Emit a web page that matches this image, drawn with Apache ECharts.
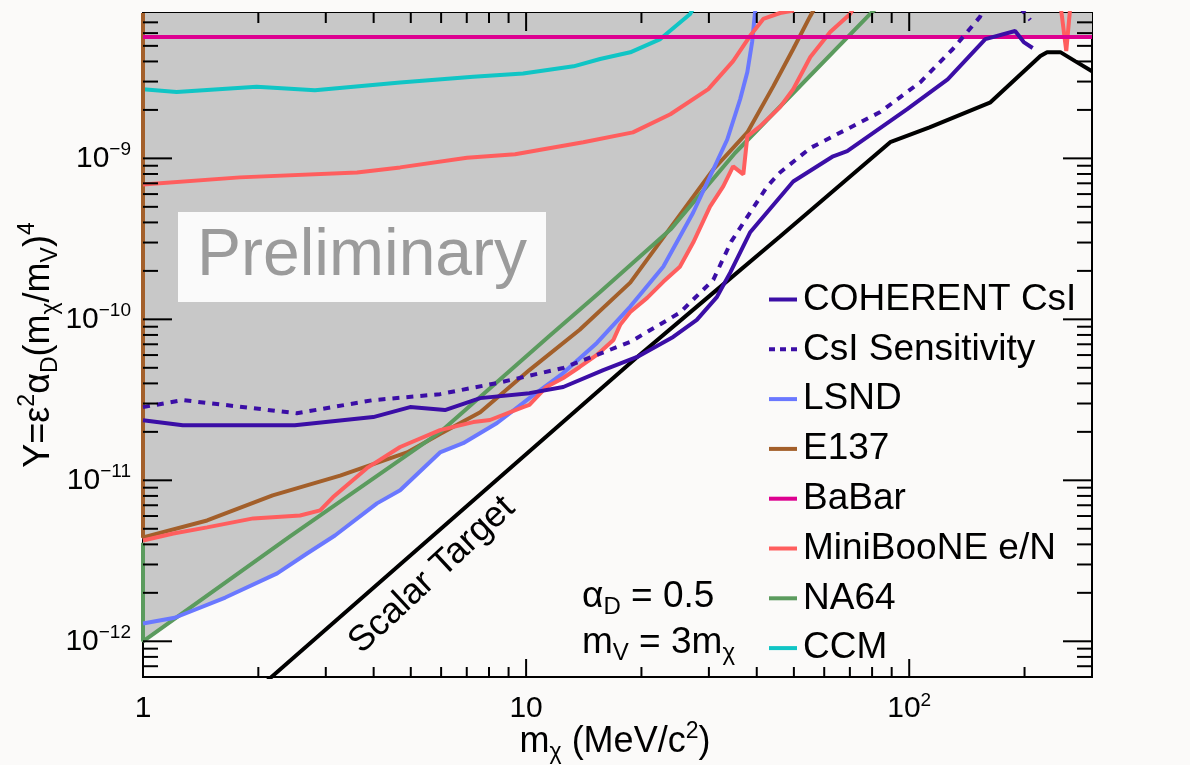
<!DOCTYPE html>
<html><head><meta charset="utf-8">
<script src="https://cdn.jsdelivr.net/npm/echarts@6/dist/echarts.min.js"></script>
<style>html,body{margin:0;padding:0;background:#fbfaf9;}#c{width:1190px;height:765px;}</style>
</head><body><div id="c"></div>
<script>
const FONT = "'Liberation Sans', Arial, Helvetica, sans-serif";
const X_MIN = 1, X_MAX = 300, Y_MIN = 6e-13, Y_MAX = 8e-9;

const xMajorTicks = [10, 100];
const xMinorTicks = [2, 3, 4, 5, 6, 7, 8, 9, 20, 30, 40, 50, 60, 70, 80, 90, 200];
const yMajorTicks = [1e-12, 1e-11, 1e-10, 1e-9];
const yMinorTicks = [7e-13, 8e-13, 9e-13,
  2e-12, 3e-12, 4e-12, 5e-12, 6e-12, 7e-12, 8e-12, 9e-12,
  2e-11, 3e-11, 4e-11, 5e-11, 6e-11, 7e-11, 8e-11, 9e-11,
  2e-10, 3e-10, 4e-10, 5e-10, 6e-10, 7e-10, 8e-10, 9e-10,
  2e-9, 3e-9, 4e-9, 5e-9, 6e-9, 7e-9];

const legendNames = ['COHERENT CsI', 'CsI Sensitivity', 'LSND', 'E137', 'BaBar', 'MiniBooNE e/N', 'NA64', 'CCM'];

const coherentCsI = [[1,2.36e-11],[1.27,2.20e-11],[2.49,2.20e-11],[3.99,2.47e-11],[4.98,2.85e-11],[6.14,2.73e-11],[7.59,3.24e-11],[10.2,3.48e-11],[12.5,3.80e-11],[15.9,4.84e-11],[19.5,5.84e-11],[24.2,7.78e-11],[27.9,9.93e-11],[31.5,1.38e-10],[34.1,1.95e-10],[38.4,3.46e-10],[49.8,7.19e-10],[63.3,1.03e-9],[68.9,1.11e-9],[98.8,2.02e-9],[126,3.10e-9],[158,5.51e-9],[189,6.18e-9],[199,5.28e-9],[210,4.85e-9]];
const csiSensitivity = [[1,2.85e-11],[1.27,3.15e-11],[2.52,2.61e-11],[3.99,3.15e-11],[5.96,3.43e-11],[8.40,4.02e-11],[12.5,4.99e-11],[18.7,7.24e-11],[25.2,1.10e-10],[30.8,1.76e-10],[34.3,3.04e-10],[42.6,6.70e-10],[46.0,8.17e-10],[55.2,1.16e-9],[84.0,1.94e-9],[107,2.98e-9],[130,4.78e-9],[153,7.57e-9],[157,8.6e-9]];
const csiSensitivityEnd = [[195,8.6e-9],[207,7.24e-9]];
const lsnd = [[1,1.29e-12],[1.21,1.40e-12],[1.64,1.87e-12],[2.24,2.64e-12],[2.68,3.51e-12],[3.17,4.54e-12],[4.08,7.19e-12],[4.69,8.67e-12],[5.96,1.49e-11],[6.85,1.70e-11],[8.40,2.27e-11],[10.2,3.24e-11],[12.5,4.64e-11],[15.3,7.14e-11],[18.7,1.20e-10],[22.8,2.12e-10],[27.3,4.61e-10],[30.8,8.53e-10],[33.5,1.31e-9],[36.2,2.33e-9],[37.8,3.44e-9],[38.9,5.28e-9],[39.6,8.13e-9],[39.8,9e-9]];
const e137 = [[1,8e-9],[1,4.42e-12],[1.47,5.63e-12],[2.18,8.07e-12],[3.27,1.07e-11],[4.89,1.49e-11],[5.96,1.94e-11],[7.59,2.65e-11],[10.2,4.84e-11],[13.8,8.61e-11],[18.7,1.69e-10],[23.3,3.46e-10],[30.8,8.53e-10],[37.8,1.45e-9],[44.2,2.81e-9],[49.8,4.78e-9],[55.2,7.67e-9],[57,8.8e-9]];
const babar = [[1,5.68e-9],[300,5.68e-9]];
const miniBooNELower = [[1,4.23e-12],[1.20,4.67e-12],[1.47,5.10e-12],[1.94,5.80e-12],[2.57,6.05e-12],[2.90,6.50e-12],[3.13,7.84e-12],[3.84,1.19e-11],[4.69,1.61e-11],[5.96,2.05e-11],[7.28,2.30e-11],[8.05,2.37e-11],[9.82,2.85e-11],[10.2,2.94e-11],[11.3,3.80e-11],[12.5,4.32e-11],[13.8,5.06e-11],[15.3,6.01e-11],[16.9,7.45e-11],[17.6,9.24e-11],[18.7,1.11e-10],[20.7,1.36e-10],[22.8,1.71e-10],[25.2,2.12e-10],[27.3,3.00e-10],[30.2,5.02e-10],[32.7,6.70e-10],[34.7,8.92e-10],[36.9,7.95e-10],[37.8,1.37e-9],[40.8,1.58e-9],[46.0,2.08e-9],[49.8,2.69e-9],[55.2,4.26e-9],[62.2,6.09e-9],[70.1,7.89e-9],[72,8.8e-9]];
const miniBooNEUpper = [[1,6.89e-10],[1.79,7.62e-10],[3.62,8.18e-10],[4.69,8.79e-10],[7.01,1.01e-9],[9.36,1.06e-9],[14.1,1.26e-9],[19.0,1.45e-9],[23.8,1.88e-9],[29.9,2.69e-9],[34.7,4.02e-9],[38.4,5.75e-9],[41.6,7.35e-9],[46,8.0e-9],[50,8.3e-9]];
const miniBooNESpike = [[249,8.5e-9],[257,4.64e-9],[263,8.5e-9]];
const na64 = [[1,4.1e-12],[1,1.0e-12],[2.42,4.48e-12],[5.96,1.99e-11],[11.5,7.89e-11],[15.6,1.48e-10],[23.8,3.61e-10],[35.1,1.08e-9],[79.1,7.89e-9],[83,8.8e-9]];
const ccm = [[1,2.69e-9],[1.224,2.58e-9],[1.98,2.79e-9],[2.81,2.65e-9],[4.69,2.96e-9],[7.28,3.21e-9],[9.82,3.37e-9],[13.3,3.73e-9],[15.6,4.14e-9],[18.7,4.56e-9],[22.4,5.51e-9],[26.8,7.89e-9],[27.5,8.8e-9]];
const scalarTarget = [[2.0,5.1e-13],[2.15,5.92e-13],[19.5,5.84e-11],[31.5,1.53e-10],[46.0,3.27e-10],[89.2,1.26e-9],[113,1.56e-9],[163,2.23e-9],[220,4.33e-9],[229,4.57e-9],[248,4.57e-9],[271,4.02e-9],[300,3.48e-9]];
const excludedBoundary = [[1,1.0e-12],[1.25,1.42e-12],[1.64,1.87e-12],[2.24,2.64e-12],[2.68,3.51e-12],[3.17,4.54e-12],[4.08,7.19e-12],[4.69,8.67e-12],[5.96,1.49e-11],[6.85,1.70e-11],[8.40,2.27e-11],[9.0,2.55e-11],[9.82,2.85e-11],[10.2,2.94e-11],[11.3,3.80e-11],[12.5,4.32e-11],[13.8,5.06e-11],[15.3,6.01e-11],[16.9,7.45e-11],[17.6,9.24e-11],[18.7,1.11e-10],[20.7,1.36e-10],[22.8,1.71e-10],[25.2,2.12e-10],[27.3,3.00e-10],[30.2,5.02e-10],[32.7,6.70e-10],[34.7,8.92e-10],[36.9,7.95e-10],[37.8,1.29e-9],[46.0,2.11e-9],[68.9,5.68e-9],[300,5.68e-9]];

const C = {
  coherent: '#3b0ea6', lsnd: '#6a78ff', e137: '#a35f2a', babar: '#dd0090',
  mini: '#ff5e5e', na64: '#5b9b5e', ccm: '#10c5c5', gray: '#c8c8c8', black: '#000000'
};
const DOT = [7, 7];

function lineSeries(name, data, color, extra) {
  return Object.assign({
    type: 'line', name: name, data: data, showSymbol: false, symbol: 'none',
    lineStyle: { color: color, width: 4 }, itemStyle: { color: color },
    z: 3, animation: false, silent: true, clip: true
  }, extra || {});
}

function tickSeries(values, axis, len) {
  return {
    type: 'custom', coordinateSystem: 'cartesian2d', silent: true, z: 6, clip: false, animation: false,
    data: values.map(v => axis === 'x' ? [v, Y_MIN] : [X_MIN, v]),
    renderItem: function (params, api) {
      const st = { stroke: '#000', lineWidth: 2 };
      if (axis === 'x') {
        const v = api.value(0);
        const a = api.coord([v, Y_MIN]), b = api.coord([v, Y_MAX]);
        return { type: 'group', children: [
          { type: 'line', shape: { x1: a[0], y1: a[1], x2: a[0], y2: a[1] - len }, style: st },
          { type: 'line', shape: { x1: b[0], y1: b[1], x2: b[0], y2: b[1] + len }, style: st }
        ] };
      } else {
        const v = api.value(1);
        const a = api.coord([X_MIN, v]), b = api.coord([X_MAX, v]);
        return { type: 'group', children: [
          { type: 'line', shape: { x1: a[0], y1: a[1], x2: a[0] + len, y2: a[1] }, style: st },
          { type: 'line', shape: { x1: b[0], y1: b[1], x2: b[0] - len, y2: b[1] }, style: st }
        ] };
      }
    }
  };
}

const labelRich = {
  b: { fontSize: 30, fontFamily: FONT, color: '#000', lineHeight: 36, verticalAlign: 'middle' },
  s: { fontSize: 19, fontFamily: FONT, color: '#000', lineHeight: 18, verticalAlign: 'top' }
};
function isPow(v) { const e = Math.log10(v); return Math.abs(e - Math.round(e)) < 1e-6; }

const legendData = legendNames.map(n => n === 'CsI Sensitivity'
  ? { name: n, icon: 'path://M0,0H6V4H0ZM11,0H17V4H11ZM22,0H28V4H22Z' }
  : { name: n, icon: 'rect' });

const chart = echarts.init(document.getElementById('c'), null, { renderer: 'canvas' });
chart.setOption({
  animation: false,
  backgroundColor: '#fbfaf9',
  grid: { left: 143, top: 13, width: 949, height: 664, show: true, borderColor: '#000', borderWidth: 2, backgroundColor: '#fbfaf9', containLabel: false },
  xAxis: {
    type: 'log', logBase: 10, min: X_MIN, max: X_MAX,
    axisLine: { show: false }, axisTick: { show: false }, splitLine: { show: false }, minorTick: { show: false },
    axisLabel: {
      margin: 14, rich: labelRich,
      formatter: function (v) {
        if (!isPow(v)) return '';
        const r = Math.round(Math.log10(v));
        if (r === 0) return '{b|1}';
        if (r === 1) return '{b|10}';
        return '{b|10}{s|' + r + '}';
      }
    }
  },
  yAxis: {
    type: 'log', logBase: 10, min: Y_MIN, max: Y_MAX,
    axisLine: { show: false }, axisTick: { show: false }, splitLine: { show: false }, minorTick: { show: false },
    axisLabel: {
      margin: 12, rich: labelRich,
      formatter: function (v) {
        if (!isPow(v)) return '';
        const r = Math.round(Math.log10(v));
        return '{b|10}{s|\u2212' + (-r) + '}';
      }
    }
  },
  legend: {
    data: legendData, orient: 'vertical', left: 769, top: 281, padding: 0, itemWidth: 28, itemHeight: 4, itemGap: 12.8,
    selectedMode: false, textStyle: { fontSize: 37, fontFamily: FONT, color: '#000', padding: [0, 0, 0, 1] }
  },
  graphic: [
    { type: 'rect', z: 100, shape: { x: 178, y: 212, width: 368, height: 90 }, style: { fill: '#fafafa' } },
    { type: 'text', z: 101, x: 362, y: 257, style: { text: 'Preliminary', fontSize: 66, fontFamily: FONT, fill: '#9b9b9b', align: 'center', verticalAlign: 'middle' } },
    { type: 'text', z: 101, x: 39, y: 345, rotation: Math.PI / 2,
      style: { text: '{b|Y=\u03b5}{p|2}{b|\u03b1}{d|D}{b|(m}{d|\u03c7}{b|/m}{d|V}{b|)}{p|4}', align: 'center', verticalAlign: 'middle',
        rich: {
          b: { fontSize: 36, fontFamily: FONT, fill: '#000', lineHeight: 46, verticalAlign: 'middle' },
          p: { fontSize: 23, fontFamily: FONT, fill: '#000', lineHeight: 23, verticalAlign: 'top' },
          d: { fontSize: 23, fontFamily: FONT, fill: '#000', lineHeight: 23, verticalAlign: 'bottom' }
        } } },
    { type: 'text', z: 101, x: 615, y: 742,
      style: { text: '{b|m}{d|\u03c7}{b| (MeV/c}{p|2}{b|)}', align: 'center', verticalAlign: 'middle',
        rich: {
          b: { fontSize: 36, fontFamily: FONT, fill: '#000', lineHeight: 44, verticalAlign: 'middle' },
          p: { fontSize: 23, fontFamily: FONT, fill: '#000', lineHeight: 22, verticalAlign: 'top' },
          d: { fontSize: 23, fontFamily: FONT, fill: '#000', lineHeight: 22, verticalAlign: 'bottom' }
        } } },
    { type: 'text', z: 101, x: 582, y: 597,
      style: { text: '{b|\u03b1}{d|D}{b| = 0.5}', align: 'left', verticalAlign: 'middle',
        rich: {
          b: { fontSize: 37, fontFamily: FONT, fill: '#000', lineHeight: 44, verticalAlign: 'middle' },
          d: { fontSize: 24, fontFamily: FONT, fill: '#000', lineHeight: 22, verticalAlign: 'bottom' }
        } } },
    { type: 'text', z: 101, x: 582, y: 643,
      style: { text: '{b|m}{d|V}{b| = 3m}{d|\u03c7}', align: 'left', verticalAlign: 'middle',
        rich: {
          b: { fontSize: 37, fontFamily: FONT, fill: '#000', lineHeight: 44, verticalAlign: 'middle' },
          d: { fontSize: 24, fontFamily: FONT, fill: '#000', lineHeight: 22, verticalAlign: 'bottom' }
        } } },
    { type: 'text', z: 101, x: 432, y: 575, rotation: 43 * Math.PI / 180,
      style: { text: 'Scalar Target', fontSize: 36, fontFamily: FONT, fill: '#000', align: 'center', verticalAlign: 'middle' } }
  ],
  series: [
    { type: 'line', name: 'excluded', data: excludedBoundary, showSymbol: false, symbol: 'none', silent: true, z: 1,
      lineStyle: { width: 0, opacity: 0 }, areaStyle: { color: C.gray, opacity: 1, origin: 'end' }, animation: false },
    lineSeries('CCM', ccm, C.ccm),
    lineSeries('E137', e137, C.e137),
    lineSeries('NA64', na64, C.na64),
    lineSeries('LSND', lsnd, C.lsnd),
    lineSeries('MiniBooNE e/N', miniBooNELower, C.mini),
    lineSeries('MiniBooNE e/N', miniBooNEUpper, C.mini),
    lineSeries('MiniBooNE e/N', miniBooNESpike, C.mini),
    lineSeries('BaBar', babar, C.babar),
    lineSeries('Scalar Target', scalarTarget, C.black),
    lineSeries('CsI Sensitivity', csiSensitivity, C.coherent, { lineStyle: { color: C.coherent, width: 4, type: DOT } }),
    lineSeries('CsI Sensitivity', csiSensitivityEnd, C.coherent, { lineStyle: { color: C.coherent, width: 4, type: DOT } }),
    lineSeries('COHERENT CsI', coherentCsI, C.coherent),
    tickSeries(xMajorTicks, 'x', 18),
    tickSeries(xMinorTicks, 'x', 10),
    tickSeries(yMajorTicks, 'y', 29),
    tickSeries(yMinorTicks, 'y', 15)
  ]
});
</script></body></html>
